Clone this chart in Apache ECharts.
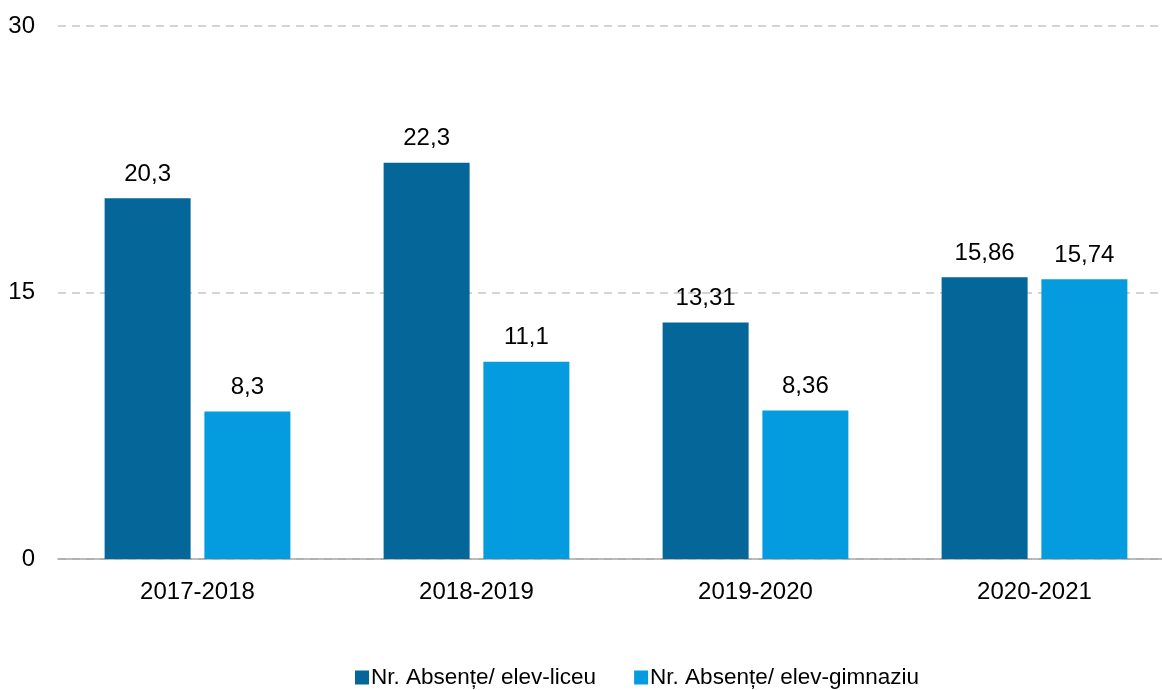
<!DOCTYPE html>
<html>
<head>
<meta charset="utf-8">
<script src="https://cdn.jsdelivr.net/npm/echarts@6/dist/echarts.min.js"></script>
<style>
  html, body { margin: 0; padding: 0; background: #fff; }
  #main { width: 1162px; height: 690px; }
</style>
</head>
<body>
<div id="main"></div>
<script>
var categories = ['2017-2018', '2018-2019', '2019-2020', '2020-2021'];
var liceu = [20.3, 22.3, 13.31, 15.86];
var gimnaziu = [8.3, 11.1, 8.36, 15.74];
var yTicks = [0, 15, 30];

var font = '"Liberation Sans Narrow", "Arial Narrow", "Liberation Sans", sans-serif';

function fmt(p) {
  return String(p.value).replace('.', ',');
}

var chart = echarts.init(document.getElementById('main'));
chart.setOption({
  animation: false,
  textStyle: { fontFamily: font },
  grid: { left: 58, right: -12, top: 26, bottom: 131, outerBoundsMode: 'none', containLabel: false },
  legend: {
    left: 350,
    bottom: -4,
    itemWidth: 14,
    itemHeight: 14,
    itemGap: 38,
    icon: 'rect',
    textStyle: { fontSize: 22.5, color: '#000', fontFamily: font, padding: [0, 0, 0, -3] },
    data: ['Nr. Absențe/ elev-liceu', 'Nr. Absențe/ elev-gimnaziu']
  },
  xAxis: {
    type: 'category',
    data: categories,
    axisTick: { show: false },
    axisLine: { lineStyle: { color: '#a6a6a6', width: 1.5 } },
    axisLabel: { fontSize: 24, color: '#000', margin: 21, fontFamily: font }
  },
  yAxis: {
    type: 'value',
    min: yTicks[0],
    max: yTicks[yTicks.length - 1],
    interval: 15,
    axisLine: { show: false },
    axisTick: { show: false },
    axisLabel: { fontSize: 24, color: '#000', margin: 23, fontFamily: font },
    splitLine: { lineStyle: { color: '#c6c6c6', type: [8, 6], width: 1.5 } }
  },
  series: [
    {
      name: 'Nr. Absențe/ elev-liceu',
      type: 'bar',
      data: liceu,
      barWidth: 86,
      barGap: '16%',
      itemStyle: { color: '#046699' },
      label: { show: true, position: 'top', distance: 12, fontSize: 24, color: '#000', formatter: fmt, fontFamily: font }
    },
    {
      name: 'Nr. Absențe/ elev-gimnaziu',
      type: 'bar',
      data: gimnaziu,
      barWidth: 86,
      itemStyle: { color: '#049cde' },
      label: { show: true, position: 'top', distance: 12, fontSize: 24, color: '#000', formatter: fmt, fontFamily: font }
    }
  ]
});
</script>
</body>
</html>
